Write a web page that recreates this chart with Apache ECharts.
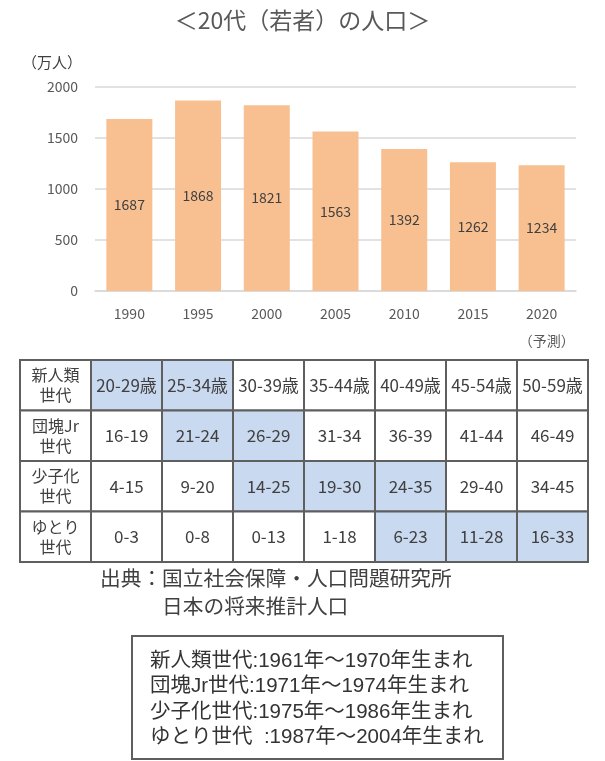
<!DOCTYPE html>
<html><head><meta charset="utf-8">
<script src="https://cdn.jsdelivr.net/npm/echarts@6/dist/echarts.min.js"></script>
<style>html,body{margin:0;padding:0;background:#fff}#c{width:605px;height:761px}</style>
</head><body><div id="c"></div>
<script>
// ---- data ----
const years = ['1990','1995','2000','2005','2010','2015','2020'];
const population = [1687,1868,1821,1563,1392,1262,1234];
const yMin = 0, yMax = 2000, yStep = 500;
const unitLabel = '（万人）';
const forecastNote = '（予測）';
const titleText = '＜20代（若者）の人口＞';

const generationNames = ['新人類\n世代','団塊Jr\n世代','少子化\n世代','ゆとり\n世代'];
const shinjinruiAges = ['20-29歳','25-34歳','30-39歳','35-44歳','40-49歳','45-54歳','50-59歳'];
const dankaiJrAges  = ['16-19','21-24','26-29','31-34','36-39','41-44','46-49'];
const shoushikaAges = ['4-15','9-20','14-25','19-30','24-35','29-40','34-45'];
const yutoriAges    = ['0-3','0-8','0-13','1-18','6-23','11-28','16-33'];
const ageRows = [shinjinruiAges, dankaiJrAges, shoushikaAges, yutoriAges];
const highlightCols = [[0,1],[1,2],[2,3,4],[4,5,6]];

const sourceLines = ['出典：国立社会保障・人口問題研究所','　　　日本の将来推計人口'];
const legendLines = [
  '新人類世代:1961年～1970年生まれ',
  '団塊Jr世代:1971年～1974年生まれ',
  '少子化世代:1975年～1986年生まれ',
  'ゆとり世代  :1987年～2004年生まれ'
];

// ---- build table cells ----
const tableCells = [];
ageRows.forEach((row, r) => {
  tableCells.push({value:[0, r], text: generationNames[r], hl:false, head:true});
  row.forEach((t, c) => {
    tableCells.push({value:[c+1, r], text: t, hl: highlightCols[r].includes(c), head:false});
  });
});

const FONT = '"Noto Sans CJK JP", "Noto Sans", sans-serif';
const BOXFONT = '"Liberation Sans", "Noto Sans CJK JP", sans-serif';
const chart = echarts.init(document.getElementById('c'), null, {renderer:'canvas'});

function renderCell(params, api){
  const item = tableCells[params.dataIndex];
  const c = api.coord([api.value(0), api.value(1)]);
  const s = api.size([1,1]);
  const fs = item.head ? 16 : 17;
  return {
    type:'group',
    children:[
      {type:'rect', shape:{x:c[0]-s[0]/2, y:c[1]-s[1]/2, width:s[0], height:s[1]},
       style:{fill: item.hl ? '#C9D9F0' : '#ffffff', stroke:'#5f5f5f', lineWidth:2}},
      {type:'text', x:c[0], y:c[1],
       style:{text:item.text, fill:'#404040', fontSize:fs, fontFamily:FONT,
              align:'center', verticalAlign:'middle', lineHeight:20}}
    ]
  };
}

const graphics = [
  {type:'text', left:22, top:55, style:{text:unitLabel, fill:'#404040', fontSize:15, fontFamily:FONT}},
];
sourceLines.forEach((t, i) => {
  graphics.push({type:'text', left:100, top:568 + i*28, style:{text:t, fill:'#404040', fontSize:20.7, fontFamily:FONT}});
});
graphics.push({type:'rect', left:131, top:635, shape:{width:371, height:123},
  style:{fill:'#fff', stroke:'#5f5f5f', lineWidth:2}});
legendLines.forEach((t, i) => {
  graphics.push({type:'text', left:150, top:651 + i*25.5, style:{text:t, fill:'#333333', fontSize:20.5, fontFamily:BOXFONT}, z:10});
});

chart.setOption({
  animation:false,
  backgroundColor:'#fff',
  title:{text:titleText, left:'center', top:4,
    textStyle:{color:'#595959', fontSize:23, fontWeight:'normal', fontFamily:FONT}},
  graphic: graphics,
  grid:[
    {left:95, right:29, top:87, height:204},
    {left:20, top:360, width:568, height:202}
  ],
  xAxis:[
    {type:'category', gridIndex:0, data:years,
     axisLine:{show:true, lineStyle:{color:'#d9d9d9', width:1.5}},
     axisTick:{show:false},
     axisLabel:{interval:0, color:'#595959', fontSize:14, fontFamily:FONT, margin:9, lineHeight:27,
       formatter: v => v === years[years.length-1] ? v + '\n{p|' + forecastNote + '}' : v,
       rich:{p:{color:'#595959', fontSize:14, fontFamily:FONT, lineHeight:27, padding:[0,0,0,10]}}}},
    {type:'category', gridIndex:1, data:[0,1,2,3,4,5,6,7], show:false}
  ],
  yAxis:[
    {type:'value', gridIndex:0, min:yMin, max:yMax, interval:yStep,
     axisLine:{show:false}, axisTick:{show:false},
     splitLine:{lineStyle:{color:'#d9d9d9', width:1.5}},
     axisLabel:{color:'#595959', fontSize:14, fontFamily:FONT, margin:17, formatter: v => String(v)}},
    {type:'category', gridIndex:1, data:[0,1,2,3], inverse:true, show:false}
  ],
  series:[
    {type:'bar', xAxisIndex:0, yAxisIndex:0, data:population, barWidth:46,
     itemStyle:{color:'#F8C091'},
     label:{show:true, position:'inside', color:'#404040', fontSize:14, fontFamily:FONT}},
    {type:'custom', xAxisIndex:1, yAxisIndex:1, data:tableCells.map(d => d.value),
     renderItem: renderCell}
  ]
});
</script></body></html>
